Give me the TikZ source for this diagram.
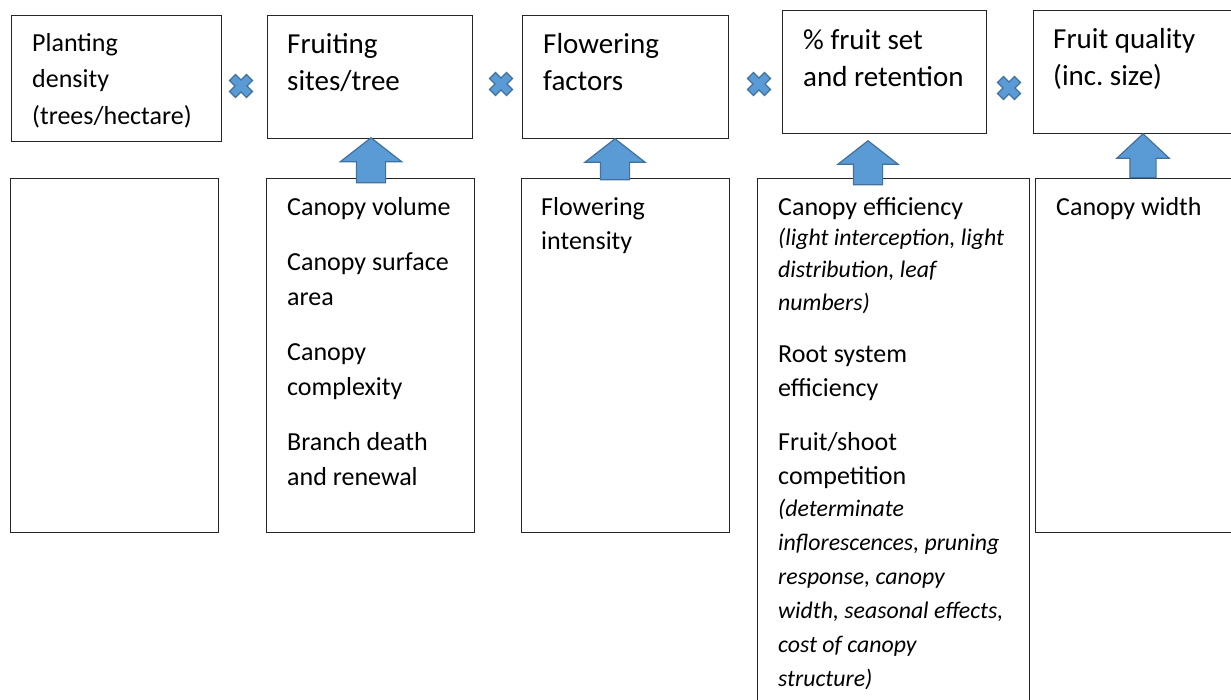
\documentclass[tikz,border=0pt]{standalone}
\usepackage{fontspec}
\setmainfont{Carlito}
\usetikzlibrary{shapes.arrows}

\definecolor{arrowblue}{HTML}{5B9BD5}
\definecolor{arrowedge}{HTML}{41719C}

\begin{document}
\begin{tikzpicture}[x=1pt,y=-1pt,
	box/.style={draw=black!85,line width=1pt,inner sep=0pt},
	headtxt/.style={anchor=base west,align=left,inner sep=0pt,font=\fontsize{29}{37}\selectfont},
	bodytxt/.style={anchor=base west,align=left,inner sep=0pt,font=\fontsize{26}{34.5}\selectfont},
	notetxt/.style={anchor=base west,align=left,inner sep=0pt,font=\fontsize{23.8}{32.5}\selectfont\itshape},
	blockup/.style={single arrow,draw=arrowedge,fill=arrowblue,line width=1.2pt,rotate=90,
		inner xsep=0pt,inner ysep=14pt,minimum height=44,single arrow head extend=15.5,
		single arrow tip angle=104},
	xmark/.style={draw=arrowedge,fill=arrowblue,line width=1.2pt}]
	\useasboundingbox (0,0) rectangle (1231,699);
	\clip (0,0) rectangle (1231,699);

	% top row
	\node[box,minimum width=210,minimum height=126] (t1) at (116,78) {};
	\node[box,minimum width=205,minimum height=123] (t2) at (369.5,76.5) {};
	\node[box,minimum width=206,minimum height=123] (t3) at (625,76.5) {};
	\node[box,minimum width=204,minimum height=123] (t4) at (884,71.5) {};
	\node[box,minimum width=215,minimum height=123] (t5) at (1140.5,71.5) {};

	% (text nodes sit on the baseline of their last line)
	\node[bodytxt,font=\fontsize{26}{36.5}\selectfont] (t1txt) at (32,124) {Planting\\density\\(trees/hectare)};
	\node[headtxt] (t2txt) at (287,90) {Fruiting\\sites/tree};
	\node[headtxt] (t3txt) at (543,90) {Flowering\\factors};
	\node[headtxt] (t4txt) at (803,86) {\% fruit set\\and retention};
	\node[headtxt] (t5txt) at (1053,85) {Fruit quality\\(inc.\ size)};

	% bottom row
	\node[box,minimum width=208,minimum height=354] (b1) at (114,355) {};
	\node[box,minimum width=208,minimum height=354] (b2) at (370,355) {};
	\node[box,minimum width=208,minimum height=354] (b3) at (625,355) {};
	\node[box,minimum width=272,minimum height=540] (b4) at (893,448) {};
	\node[box,minimum width=215,minimum height=354] (b5) at (1142.5,355) {};

	\node[bodytxt] (b2txt) at (287,485) {Canopy volume\\[21pt]Canopy surface\\area\\[21pt]Canopy\\complexity\\[21pt]Branch death\\and renewal};
	\node[bodytxt] (b3txt) at (541,249.5) {Flowering\\intensity};
	\node[bodytxt] (b4a) at (778,215) {Canopy efficiency};
	\node[notetxt] (b4b) at (778,310) {(light interception, light\\distribution, leaf\\numbers)};
	\node[bodytxt] (b4c) at (778,396.5) {Root system\\efficiency};
	\node[bodytxt] (b4d) at (778,484.5) {Fruit/shoot\\competition};
	\node[notetxt,font=\fontsize{23.8}{34}\selectfont\itshape] (b4e) at (778,686) {(determinate\\inflorescences, pruning\\response, canopy\\width, seasonal effects,\\cost of canopy\\structure)};
	\node[bodytxt] (b5txt) at (1056,215) {Canopy width};

	% block arrows
	\node[blockup,anchor=tip,minimum height=45,single arrow head extend=16] (up2) at (371,137) {};
	\node[blockup,anchor=tip,minimum height=41] (up3) at (615,138) {};
	\node[blockup,anchor=tip] (up4) at (868,140) {};
	\node[blockup,anchor=tip,inner ysep=12.5pt,single arrow head extend=13,single arrow tip angle=94] (up5) at (1143,133) {};

	% multiply signs
	\foreach \cx/\cy in {241/86,501/84,759/84,1009/88}
		\draw[xmark,shift={(\cx,\cy)},rotate=45] (4.2,12) -- (4.2,4.2) -- (12,4.2) -- (12,-4.2) -- (4.2,-4.2) -- (4.2,-12)
			-- (-4.2,-12) -- (-4.2,-4.2) -- (-12,-4.2) -- (-12,4.2) -- (-4.2,4.2) -- (-4.2,12) -- cycle;
\end{tikzpicture}
\end{document}
